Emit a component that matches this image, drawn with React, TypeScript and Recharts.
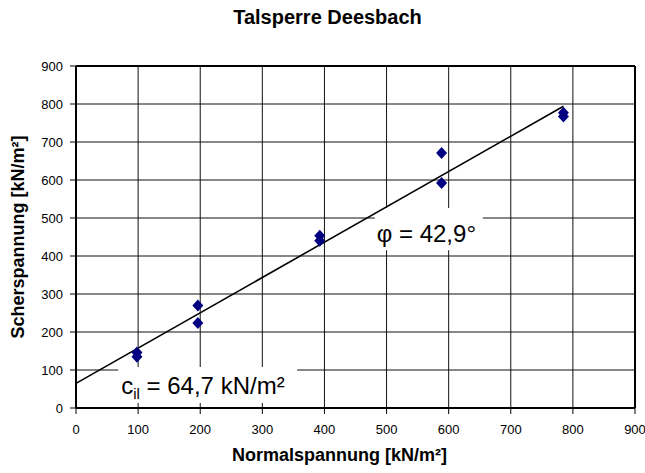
import React from "react";
import {
  ScatterChart,
  Scatter,
  XAxis,
  YAxis,
  CartesianGrid,
  ReferenceArea,
  ReferenceLine,
} from "recharts";

const normal = [98.1, 98.1, 196.2, 196.2, 392.4, 392.4, 588.6, 588.6, 784.8, 784.8];
const shear = [146, 135, 270, 224, 453, 440, 671, 592, 777, 767];
const fitX = [0, 784.8];
const fitY = [64.7, 794];
const ticks = [0, 100, 200, 300, 400, 500, 600, 700, 800, 900];

const points = normal.map((x, i) => ({ x, y: shear[i] }));
const fitLine = fitX.map((x, i) => ({ x, y: fitY[i] }));

const FONT = "'Liberation Sans', Arial, sans-serif";

const Diamond = (props: any) => {
  const { cx, cy } = props;
  if (cx == null || cy == null) return <g />;
  return (
    <polygon
      points={`${cx},${cy - 6} ${cx + 5.5},${cy} ${cx},${cy + 6} ${cx - 5.5},${cy}`}
      fill="#000080"
    />
  );
};

const NoDot = () => <g />;

const CLabel = ({ viewBox }: any) => (
  <text x={viewBox.x + 3} y={viewBox.y + viewBox.height - 9} fontSize={24} fontFamily={FONT} fill="#000">
    c<tspan fontSize={15} dy={5}>il</tspan>
    <tspan dy={-5}> = 64,7 kN/m²</tspan>
  </text>
);

const PhiLabel = ({ viewBox }: any) => (
  <text x={viewBox.x + 2} y={viewBox.y + viewBox.height - 8} fontSize={24} fontFamily={FONT} fill="#000">
    φ = 42,9°
  </text>
);

export default function App() {
  return (
    <div style={{ position: "absolute", left: 0, top: 0, width: 645, height: 473, background: "#fff", fontFamily: FONT }}>
      <div style={{ position: "absolute", left: 0, width: 655, top: 6, textAlign: "center", fontSize: 20, fontWeight: "bold" }}>
        Talsperre Deesbach
      </div>
      <div style={{ position: "absolute", left: 76, width: 559, top: 445, textAlign: "center", fontSize: 18, fontWeight: "bold", transform: "translateX(-16px)" }}>
        Normalspannung [kN/m²]
      </div>
      <div
        style={{
          position: "absolute",
          left: 18,
          top: 237,
          transform: "translate(-50%, -50%) rotate(-90deg)",
          whiteSpace: "nowrap",
          fontSize: 18,
          fontWeight: "bold",
        }}
      >
        Scherspannung [kN/m²]
      </div>
      <ScatterChart width={645} height={473} margin={{ top: 66, right: 10, bottom: 35, left: 36 }}>
        <CartesianGrid stroke="#111" strokeWidth={1} />
        <XAxis
          type="number"
          dataKey="x"
          domain={[0, 900]}
          ticks={ticks}
          interval={0}
          height={30}
          tickSize={6}
          tickMargin={11}
          axisLine={{ stroke: "#000", strokeWidth: 2 }}
          tickLine={{ stroke: "#000" }}
          tick={{ fontSize: 13, fill: "#000", fontFamily: FONT }}
        />
        <YAxis
          type="number"
          dataKey="y"
          domain={[0, 900]}
          ticks={ticks}
          interval={0}
          width={40}
          tickSize={6}
          tickMargin={7}
          axisLine={{ stroke: "#000", strokeWidth: 2 }}
          tickLine={{ stroke: "#000" }}
          tick={{ fontSize: 13, fill: "#000", fontFamily: FONT }}
        />
        <ReferenceLine x={900} stroke="#000" strokeWidth={2} />
        <ReferenceLine y={900} stroke="#000" strokeWidth={2} />
        <ReferenceArea x1={68} x2={356} y1={13} y2={108} fill="#fff" fillOpacity={1} stroke="none" label={<CLabel />} />
        <ReferenceArea x1={481} x2={655} y1={415} y2={526} fill="#fff" fillOpacity={1} stroke="none" label={<PhiLabel />} />
        <Scatter
          data={fitLine}
          line={{ stroke: "#000", strokeWidth: 1.6 }}
          shape={<NoDot />}
          isAnimationActive={false}
        />
        <Scatter data={points} shape={<Diamond />} isAnimationActive={false} />
      </ScatterChart>
    </div>
  );
}
